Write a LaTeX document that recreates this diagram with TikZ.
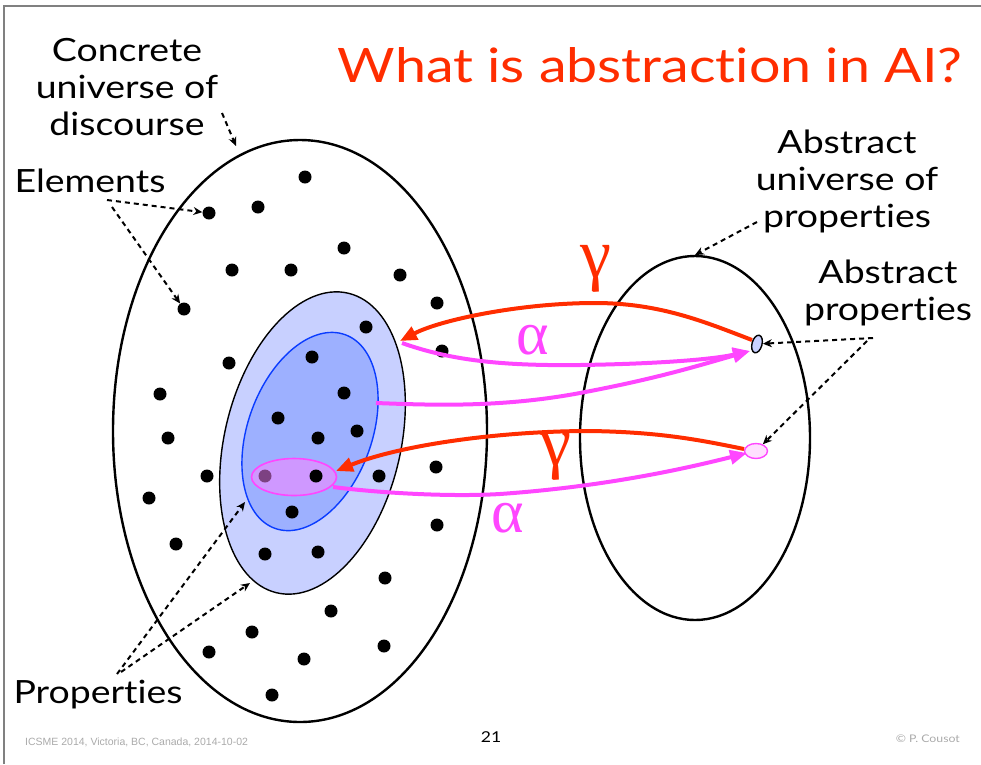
\documentclass[tikz,border=0pt]{standalone}
\usepackage{fontspec}
\setmainfont{Lato}[Ligatures=NoCommon,FakeStretch=1.17]
\newfontfamily\greekfont{Liberation Serif}
\newfontfamily\footfont{Liberation Sans}
\usetikzlibrary{arrows.meta,shapes.geometric}
\definecolor{myred}{RGB}{255,45,0}
\definecolor{mymag}{RGB}{255,70,255}
\definecolor{lightblue}{RGB}{200,208,255}
\definecolor{midblue}{RGB}{157,176,255}
\definecolor{edgeblue}{RGB}{10,60,255}
\definecolor{lilac}{RGB}{207,152,255}
\definecolor{paleP}{RGB}{255,224,255}
\definecolor{framegray}{RGB}{128,128,128}
\definecolor{footgray}{RGB}{170,170,170}
\definecolor{tintdot}{RGB}{125,65,130}
\begin{document}
\begin{tikzpicture}[x=1pt,y=-1pt,
  dot/.style={circle,fill=black,inner sep=0pt,minimum size=13pt},
  lab/.style={font=\fontsize{32}{37}\selectfont,align=center,inner sep=0pt},
  hint/.style={draw=black,line width=2pt,dash pattern=on 5pt off 4pt,-{Stealth[length=9pt,width=8pt]}},
  gam/.style={draw=myred,line width=4pt,-{Triangle[length=17pt,width=14pt]}},
  alp/.style={draw=mymag,line width=4pt,-{Triangle[length=17pt,width=14pt]}},
  greekg/.style={inner sep=0pt,font=\greekfont\fontsize{70}{70}\selectfont},
  greeka/.style={inner sep=0pt,font=\greekfont\fontsize{62}{62}\selectfont},
  bigell/.style={ellipse,draw=black,line width=2.4pt,inner sep=0pt},
]
\useasboundingbox (0,0) rectangle (981,764);
\draw[framegray,line width=2pt] (4,764) -- (4,6) -- (981,6);

% title
\node[anchor=base,inner sep=0pt,text=myred,font=\fontsize{47.5}{50}\selectfont] (title) at (650,82) {What is abstraction in AI?};

% universes
\node[bigell,minimum width=374pt,minimum height=582pt] (U) at (300,431) {};
\node[bigell,minimum width=230pt,minimum height=364pt] (A) at (695,438) {};

% properties
\node[ellipse,draw=black,line width=1.4pt,fill=lightblue,inner sep=0pt,minimum width=176pt,minimum height=308pt,rotate=-13.5] (P1) at (312.5,443) {};
\node[ellipse,draw=edgeblue,line width=1.4pt,fill=midblue,inner sep=0pt,minimum width=124pt,minimum height=206pt,rotate=-20] (P2) at (310,431.5) {};

% elements
\foreach \n/\x/\y in {1/305/177,2/209/213,3/258/207,4/344/248,5/232/270,6/291/270,7/400/275,
  8/184/309,9/437/303,10/366/327,11/442/351,12/229/363,13/312/357,14/160/394,15/344/393,
  16/278/418,17/168/438,18/318/438,19/357/431,20/207/476,23/436/467,24/149/498,
  25/292/512,26/437/525,27/176/544,28/265/554,29/318/552,30/385/578,31/331/611,
  32/252/632,33/209/652,34/304/659,35/384/646,36/272/695,37/379/476}
  \node[dot] (d\n) at (\x,\y) {};

\node[ellipse,draw=mymag,line width=1.6pt,fill=lilac,inner sep=0pt,minimum width=85pt,minimum height=37pt] (P3) at (294,477) {};
\node[circle,fill=tintdot,inner sep=0pt,minimum size=13pt] (d21) at (265,476) {};
\node[dot] (d22) at (316,476) {};

% abstract properties
\node[ellipse,draw=black,line width=1.4pt,fill=lightblue,inner sep=0pt,minimum width=10pt,minimum height=18pt,rotate=-15] (a1) at (757,344) {};
\node[ellipse,draw=mymag,line width=1.4pt,fill=paleP,inner sep=0pt,minimum width=23pt,minimum height=15pt] (a2) at (756,451) {};

% connector points
\coordinate (g1s) at (752,340);
\coordinate (g1m) at (595,303);
\coordinate (g1e) at (400,341);
\coordinate (al1s) at (402,343);
\coordinate (al1m) at (580,365);
\coordinate (al1e) at (750,351);
\coordinate (al2s) at (376,403);
\coordinate (al2m) at (580,393);
\coordinate (g2s) at (744,449);
\coordinate (g2m) at (590,431);
\coordinate (g2e) at (336,471);
\coordinate (al3s) at (333,487);
\coordinate (al3m) at (500,494);
\coordinate (al3e) at (747,453);

\draw[gam] (g1s) .. controls (705,322) and (660,303) .. (g1m) .. controls (520,303) and (440,320) .. (g1e);
\draw[alp] (al1s) .. controls (450,360) and (500,366) .. (al1m) .. controls (650,364) and (710,360) .. (al1e);
\draw[alp] (al2s) .. controls (430,405) and (500,408) .. (al2m) .. controls (660,378) and (700,365) .. (al1e);
\draw[gam] (g2s) .. controls (700,440) and (660,432) .. (g2m) .. controls (500,431) and (400,445) .. (g2e);
\draw[alp] (al3s) .. controls (380,493) and (450,497) .. (al3m) .. controls (600,487) and (680,470) .. (al3e);

\node[greekg,text=myred] (gam1) at (596,269) {γ};
\node[greeka,text=mymag] (alp1) at (533,340) {α};
\node[greekg,text=myred] (gam2) at (556,457) {γ};
\node[greeka,text=mymag] (alp2) at (508,518) {α};

% labels
\node[lab,anchor=north] (lconc) at (127,38) {Concrete\\universe of\\discourse};
\node[lab,anchor=base] (lelem) at (90,192) {Elements};
\node[lab,anchor=base] (lprop) at (98,703) {Properties};
\node[lab,anchor=north] (labsu) at (847,130) {Abstract\\universe of\\properties};
\node[lab,anchor=north] (labsp) at (888,260) {Abstract\\properties};

\coordinate (c1) at (222,113); \coordinate (c1t) at (236,146);
\coordinate (e1) at (107,200); \coordinate (e2) at (112,207);
\coordinate (p1) at (117,674); \coordinate (p2) at (121,672);
\coordinate (u1) at (757,222); \coordinate (u1t) at (695,255);
\coordinate (q1) at (873,338); \coordinate (q2) at (867,341);

\draw[hint] (c1) -- (c1t);
\draw[hint] (e1) -- (d2);
\draw[hint] (e2) -- (d8);
\draw[hint] (p1) -- (245,502);
\draw[hint] (p2) -- (250,583);
\draw[hint] (u1) -- (u1t);
\draw[hint] (q1) -- (a1);
\draw[hint] (q2) -- (a2);

% footer
\node[anchor=base west,inner sep=0pt,text=footgray,font=\footfont\fontsize{10.5}{12}\selectfont] (f1) at (25,745) {ICSME 2014, Victoria, BC, Canada, 2014-10-02};
\node[anchor=base,inner sep=0pt,font=\fontsize{15}{15}\selectfont] (pg) at (491,742) {21};
\node[anchor=base east,inner sep=0pt,text=footgray,font=\fontsize{10.5}{12}\selectfont] (cp) at (960,742) {© P. Cousot};
\end{tikzpicture}
\end{document}
